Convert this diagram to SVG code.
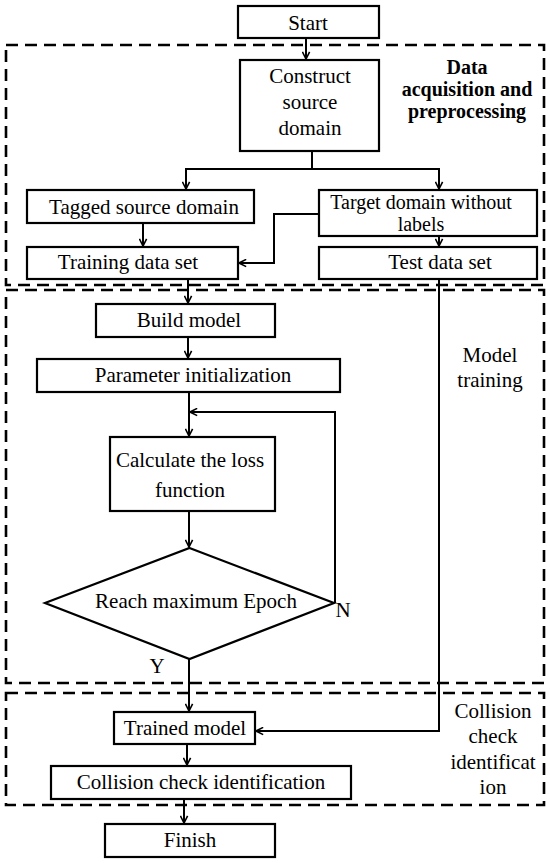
<svg xmlns="http://www.w3.org/2000/svg" width="550" height="863" viewBox="0 0 550 863">
<defs>
<marker id="arr" viewBox="0 0 10 10" refX="9" refY="5" markerWidth="9" markerHeight="9" markerUnits="userSpaceOnUse" orient="auto">
<path d="M1,1 L9,5 L1,9" fill="none" stroke="#000" stroke-width="1.8"/>
</marker>
<style>
.box{fill:#fff;stroke:#000;stroke-width:2.2}
.reg{fill:none;stroke:#000;stroke-width:2.6;stroke-dasharray:12 7}
.t{font-family:"Liberation Serif","Times New Roman",serif;font-size:21px;fill:#000;text-anchor:middle}
.s{font-size:20px}
.b{font-weight:bold}
.c{fill:none;stroke:#000;stroke-width:2}
</style>
</defs>
<rect width="550" height="863" fill="#fff"/>
<g id="regions">
<rect class="reg" x="6" y="45" width="538" height="240"/>
<rect class="reg" x="6" y="290" width="538" height="393"/>
<rect class="reg" x="6" y="693" width="538" height="112"/>
<text class="t b s" x="467" y="74">Data</text>
<text class="t b s" x="467" y="96">acquisition and</text>
<text class="t b s" x="467" y="118">preprocessing</text>
<text class="t" x="490" y="362">Model</text>
<text class="t" x="490" y="387">training</text>
<text class="t" x="493" y="718">Collision</text>
<text class="t" x="493" y="743">check</text>
<text class="t" x="493" y="769">identificat</text>
<text class="t" x="493" y="794">ion</text>
</g>
<g id="connectors">
<path class="c" d="M306,38 V59" marker-end="url(#arr)"/>
<path class="c" d="M312,151 V169 H186 V189" marker-end="url(#arr)"/>
<path class="c" d="M312,169 H439 V189" marker-end="url(#arr)"/>
<path class="c" d="M143,223 V246" marker-end="url(#arr)"/>
<path class="c" d="M319,214 H274 V263 H239" marker-end="url(#arr)"/>
<path class="c" d="M439,236 V246" marker-end="url(#arr)"/>
<path class="c" d="M188,279 V303" marker-end="url(#arr)"/>
<path class="c" d="M439,279 V731 H256" marker-end="url(#arr)"/>
<path class="c" d="M188,337 V358" marker-end="url(#arr)"/>
<path class="c" d="M189,392 V436" marker-end="url(#arr)"/>
<path class="c" d="M189,511 V547" marker-end="url(#arr)"/>
<path class="c" d="M335,603 V412 H190" marker-end="url(#arr)"/>
<path class="c" d="M189,659 V711" marker-end="url(#arr)"/>
<path class="c" d="M187,744 V765" marker-end="url(#arr)"/>
<path class="c" d="M184,799 V823" marker-end="url(#arr)"/>
<text class="t" x="343" y="617">N</text>
<text class="t" x="157" y="673">Y</text>
</g>
<g id="start"><rect class="box" x="238" y="6" width="141" height="32"/><text class="t" x="308" y="30">Start</text></g>
<g id="construct"><rect class="box" x="240" y="60" width="139" height="91"/><text class="t" x="310" y="83">Construct</text><text class="t" x="310" y="109">source</text><text class="t" x="310" y="135">domain</text></g>
<g id="tagged"><rect class="box" x="27" y="190" width="227" height="33"/><text class="t" x="144" y="214">Tagged source domain</text></g>
<g id="target"><rect class="box" x="319" y="190" width="218" height="46"/><text class="t s" x="421" y="209">Target domain without</text><text class="t s" x="421" y="231">labels</text></g>
<g id="training"><rect class="box" x="27" y="247" width="211" height="32"/><text class="t" x="128" y="269">Training data set</text></g>
<g id="test"><rect class="box" x="319" y="247" width="218" height="32"/><text class="t" x="440" y="269">Test data set</text></g>
<g id="build"><rect class="box" x="96" y="304" width="179" height="33"/><text class="t" x="189" y="327">Build model</text></g>
<g id="param"><rect class="box" x="37" y="359" width="303" height="33"/><text class="t" x="193" y="382">Parameter initialization</text></g>
<g id="calc"><rect class="box" x="110" y="437" width="165" height="74"/><text class="t" x="190" y="467">Calculate the loss</text><text class="t" x="190" y="497">function</text></g>
<g id="decision"><polygon class="box" points="189.5,548 334,603 189.5,659 45,603"/><text class="t" x="196" y="608">Reach maximum Epoch</text></g>
<g id="trained"><rect class="box" x="114" y="712" width="141" height="32"/><text class="t" x="185" y="735">Trained model</text></g>
<g id="collision"><rect class="box" x="51" y="766" width="300" height="33"/><text class="t" x="201" y="789">Collision check identification</text></g>
<g id="finish"><rect class="box" x="105" y="824" width="170" height="33"/><text class="t" x="190" y="847">Finish</text></g>
</svg>
